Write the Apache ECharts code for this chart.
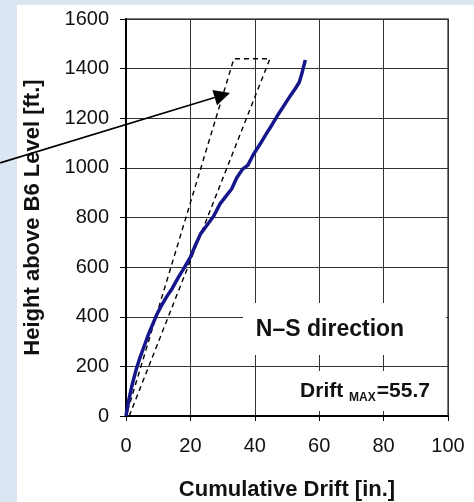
<!DOCTYPE html>
<html>
<head>
    <meta charset="utf-8">
    <title></title>
    <style>
        html, body { margin: 0; padding: 0; background: #fff; }
    </style>
</head>
<body>
<div id="main" style="width: 474px;height:502px;"></div>
    <script type="text/javascript" src="https://cdn.jsdelivr.net/npm/echarts@6/dist/echarts.min.js"></script>
    <script type="text/javascript">
        // 累积层间位移 (in.) 与楼层高度 (ft.)
        var driftX = [0, 0.8, 1.8, 3.0, 4.2, 5.6, 7.0, 8.3, 9.6, 11.0, 12.6, 14.4, 16.3, 18.2, 20.0, 21.6, 23.2, 25.2, 27.2, 29.2, 31.0, 32.8, 34.4, 36.2, 37.8, 39.6, 41.6, 43.7, 45.4, 47.0, 49.0, 51.0, 52.6, 53.8, 54.4, 55.0, 55.7];
        var heights = [0, 60, 120, 180, 230, 280, 330, 370, 410, 445, 480, 515, 560, 600, 640, 690, 735, 770, 805, 855, 885, 915, 960, 995, 1010, 1055, 1095, 1140, 1175, 1210, 1250, 1290, 1320, 1345, 1370, 1400, 1435];

        // 虚线包络 (右下 -> 右上 -> 左上 -> 原点)
        var boundX = [1, 44.7, 33.5, 0];
        var boundY = [0, 1440, 1440, 0];

        // 箭头起止点
        var arrowFrom = [-39.1, 1020];
        var arrowTo = [32.3, 1302];

        var xTicks = [0, 20, 40, 60, 80, 100];
        var yTicks = [0, 200, 400, 600, 800, 1000, 1200, 1400, 1600];

        var font = '"Liberation Sans", Arial, sans-serif';
        var charts = echarts.init(document.getElementById('main'));

        function pairs(xs, ys){
            return xs.map(function(v, i){ return [v, ys[i]]; });
        }

        var option = {
            animation: false,
            textStyle: { fontFamily: font },
            grid: {
                left: 126, right: 26, top: 19, bottom: 86,
                outerBoundsMode: 'none',
                containLabel: false,
                show: true,
                borderColor: '#555',
                borderWidth: 1.5
            },
            xAxis: {
                type: 'value',
                min: xTicks[0], max: xTicks[xTicks.length - 1], interval: 20,
                name: 'Cumulative Drift [in.]',
                nameLocation: 'middle',
                nameGap: 63,
                nameTextStyle: { fontSize: 22, fontWeight: 'bold', color: '#111', fontFamily: font },
                axisLine: { lineStyle: { color: '#000', width: 2 } },
                axisTick: { show: true, length: 5, lineStyle: { color: '#000' } },
                axisLabel: { fontSize: 20, color: '#111', margin: 20, fontFamily: font },
                splitLine: { show: true, lineStyle: { color: '#333', width: 1 } }
            },
            yAxis: {
                type: 'value',
                min: yTicks[0], max: yTicks[yTicks.length - 1], interval: 200,
                name: 'Height above B6 Level [ft.]',
                nameLocation: 'middle',
                nameGap: 82,
                nameTextStyle: { fontSize: 22, fontWeight: 'bold', color: '#111', fontFamily: font },
                axisLine: { show: true, lineStyle: { color: '#000', width: 2 } },
                axisTick: { show: true, length: 6, lineStyle: { color: '#000' } },
                axisLabel: {
                    fontSize: 20, color: '#111', margin: 17, fontFamily: font,
                    formatter: function(v){ return String(v); }
                },
                splitLine: { show: true, lineStyle: { color: '#333', width: 1 } }
            },
            series: [
                {
                    name: 'bound',
                    type: 'line',
                    data: pairs(boundX, boundY),
                    showSymbol: false,
                    z: 3,
                    lineStyle: { color: '#000', width: 1.4, type: [5, 4] }
                },
                {
                    name: 'drift',
                    type: 'line',
                    data: pairs(driftX, heights),
                    showSymbol: false,
                    z: 4,
                    lineStyle: { color: '#15168a', width: 3.5 }
                }
            ]
        };
        charts.setOption(option);

        // 箭头与文字框
        var p0 = charts.convertToPixel({ gridIndex: 0 }, arrowFrom);
        var p1 = charts.convertToPixel({ gridIndex: 0 }, arrowTo);
        var ang = Math.atan2(p1[1] - p0[1], p1[0] - p0[0]);
        var len = 16, half = 8;
        var bx = p1[0] - len * Math.cos(ang), by = p1[1] - len * Math.sin(ang);
        var nx = -Math.sin(ang), ny = Math.cos(ang);

        charts.setOption({
            graphic: [
                { type: 'rect', z: -10, silent: true, shape: { x: 0, y: 0, width: 17, height: 502 }, style: { fill: '#dce6f2' } },
                { type: 'rect', z: -10, silent: true, shape: { x: 0, y: 0, width: 474, height: 5 }, style: { fill: '#dce6f2' } },
                { type: 'rect', z: 10, shape: { x: 243, y: 303, width: 203, height: 52 }, style: { fill: '#fff' } },
                { type: 'rect', z: 10, shape: { x: 290, y: 371, width: 156, height: 40 }, style: { fill: '#fff' } },
                {
                    type: 'text', z: 11, x: 330, y: 330,
                    style: { text: 'N–S direction', font: 'bold 23px ' + font, fill: '#111', align: 'center', verticalAlign: 'middle' }
                },
                {
                    type: 'text', z: 11, x: 365, y: 391,
                    style: {
                        text: '{a|Drift }{b|MAX}{a|=55.7}',
                        align: 'center', verticalAlign: 'middle',
                        rich: {
                            a: { font: 'bold 21px ' + font, fill: '#111', lineHeight: 22, verticalAlign: 'middle' },
                            b: { font: 'bold 12px ' + font, fill: '#111', lineHeight: 12, padding: [14, 1, 0, 0], verticalAlign: 'middle' }
                        }
                    }
                },
                {
                    type: 'line', z: 12,
                    shape: { x1: p0[0], y1: p0[1], x2: bx, y2: by },
                    style: { stroke: '#000', lineWidth: 1.6 }
                },
                {
                    type: 'polygon', z: 12,
                    shape: { points: [p1, [bx + nx * half, by + ny * half], [bx - nx * half, by - ny * half]] },
                    style: { fill: '#000' }
                }
            ]
        });
    </script>
</body>
</html>
